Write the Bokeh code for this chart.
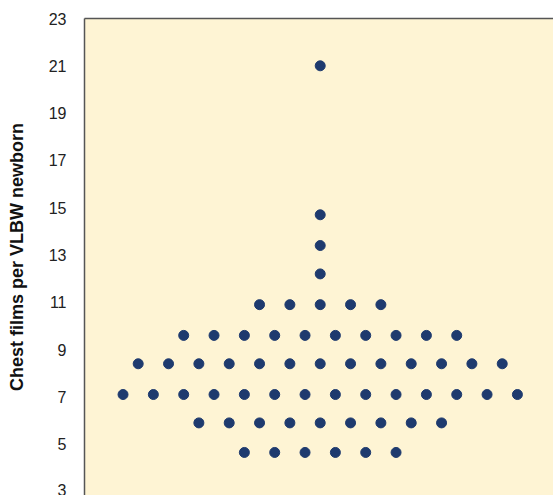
from bokeh.plotting import figure
from bokeh.models import LinearAxis, FixedTicker, Range1d
from bokeh.embed import file_html
from bokeh.resources import INLINE

# Dot plot rows: value level and horizontal slot offsets of each dot
row_values = [4.65, 5.9, 7.1, 8.4, 9.6, 10.9, 12.2, 13.4, 14.7, 21.0]
row_slots = [
    [-5, -3, -1, 1, 3, 5],
    [-8, -6, -4, -2, 0, 2, 4, 6, 8],
    [-13, -11, -9, -7, -5, -3, -1, 1, 3, 5, 7, 9, 11, 13],
    [-12, -10, -8, -6, -4, -2, 0, 2, 4, 6, 8, 10, 12],
    [-9, -7, -5, -3, -1, 1, 3, 5, 7, 9],
    [-4, -2, 0, 2, 4],
    [0],
    [0],
    [0],
    [0],
]
y_ticks = [3, 5, 7, 9, 11, 13, 15, 17, 19, 21, 23]
y_label = "Chest films per VLBW newborn"

xs, ys = [], []
for v, slots in zip(row_values, row_slots):
    for s in slots:
        xs.append(s)
        ys.append(v)

p = figure(width=553, height=495, output_backend="svg", toolbar_location=None,
           x_range=Range1d(-15.54, 15.38), y_range=Range1d(2.83, 23.0),
           min_border_left=84, min_border_top=18, min_border_right=0, min_border_bottom=0,
           x_axis_location=None, y_axis_location=None)
p.background_fill_color = "#FEF4D4"
p.border_fill_color = "white"
p.outline_line_color = None
p.grid.visible = False

yax = LinearAxis(ticker=FixedTicker(ticks=y_ticks))
yax.axis_label = y_label
yax.axis_label_text_font = "Liberation Sans"
yax.axis_label_text_font_style = "bold"
yax.axis_label_text_font_size = "18px"
yax.axis_label_text_color = "#111111"
yax.axis_label_standoff = 19
yax.major_label_text_font = "Liberation Sans"
yax.major_label_text_font_size = "16px"
yax.major_label_text_color = "#222222"
yax.major_label_standoff = 12
yax.major_tick_line_color = None
yax.minor_tick_line_color = None
yax.axis_line_color = "#555555"
yax.axis_line_width = 1.5
p.add_layout(yax, "left")

top = LinearAxis(ticker=FixedTicker(ticks=[]))
top.major_label_text_font_size = "0px"
top.major_tick_line_color = None
top.minor_tick_line_color = None
top.axis_line_color = "#555555"
top.axis_line_width = 1.5
p.add_layout(top, "above")

p.scatter(xs, ys, size=10, color="#1E3A6E", line_color="#1E3A6E")

open("out.html", "w").write(file_html(p, INLINE))
